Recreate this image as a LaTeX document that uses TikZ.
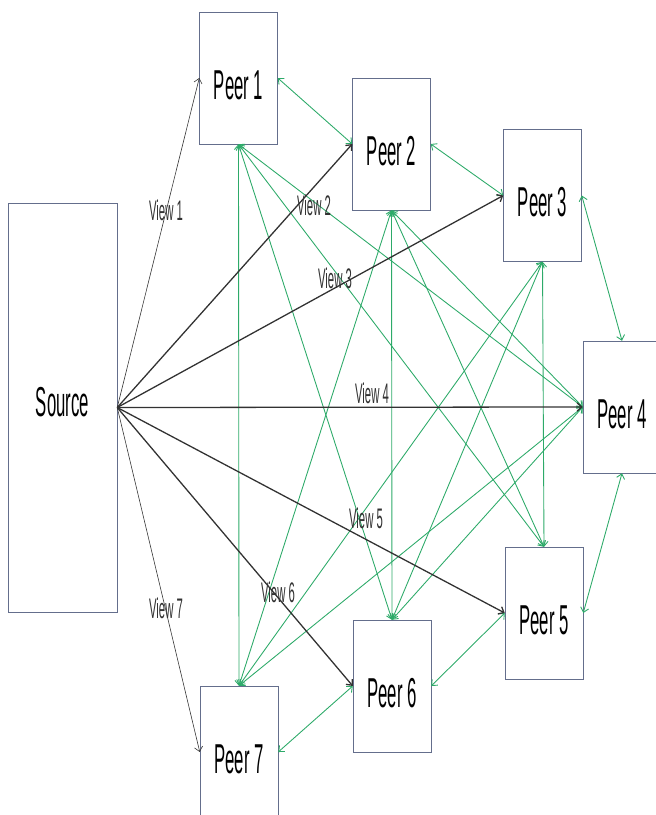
\documentclass[tikz,border=0pt]{standalone}
\usepackage{fontspec}
\setmainfont{Liberation Sans}
\usepackage{graphicx}
\usetikzlibrary{arrows.meta}
\definecolor{linkgreen}{RGB}{45,170,105}
\definecolor{boxline}{RGB}{100,110,140}
\definecolor{viewgray}{RGB}{50,50,50}
\newcommand{\narrowtext}[1]{\scalebox{0.42}[1.05]{#1}}

\begin{document}
\begin{tikzpicture}[x=0.03cm,y=-0.03cm,
    peerbox/.style={draw=boxline,fill=white,inner sep=0pt,minimum width=2.34cm,minimum height=3.96cm,
        font=\fontsize{34}{40}\selectfont,text height=36pt,text depth=0pt},
    srcbox/.style={draw=boxline,fill=white,inner sep=0pt,minimum width=3.27cm,minimum height=12.27cm,
        font=\fontsize{34}{40}\selectfont,text depth=10pt},
    link/.style={draw=linkgreen,line width=0.75pt,{Straight Barb[length=4pt,width=7pt]}-{Straight Barb[length=4pt,width=7pt]}},
    view/.style={draw=viewgray,-{Straight Barb[length=4pt,width=7pt]}},
    viewlabel/.style={text=viewgray,inner sep=0pt,font=\fontsize{23}{27}\selectfont}]
    \useasboundingbox (0,0) rectangle (656,815);

    % Source and peers
    \node[srcbox] (src) at (62.5,407.5) {\narrowtext{Source}};
    \foreach \n/\px/\py in {1/238.5/78,2/391.5/144,3/542.5/195.5,4/622/407,5/544/613,6/392/686,7/239/752} {
        \node[peerbox] (p\n) at (\px,\py) {\narrowtext{Peer \n}};
    }

    % Peer to peer links
    \foreach \a/\sa/\b/\sb in {1/east/2/west,2/east/3/west,3/east/4/north,4/south/5/east,5/west/6/east,6/west/7/east,
        1/south/7/north,1/south/6/north,1/south/5/north,1/south/4/west,
        2/south/7/north,2/south/6/north,2/south/5/north,2/south/4/west,
        3/south/7/north,3/south/6/north,3/south/5/north,
        4/west/7/north,4/west/6/north} {
        \draw[link] (p\a.\sa) -- (p\b.\sb);
    }

    % Views from the source
    \foreach \i/\w in {1/0.5pt,2/1.1pt,3/1.1pt,4/1.1pt,5/1.1pt,6/1.1pt,7/0.5pt} {
        \draw[view,line width=\w] (src.east) -- (p\i.west);
    }

    % View labels
    \foreach \i/\lx/\ly in {1/166/210,2/314/205,3/335/278,4/372/393,5/366/518,6/278/592,7/166/608} {
        \node[viewlabel] (v\i) at (\lx,\ly) {\narrowtext{View \i}};
    }
\end{tikzpicture}
\end{document}
